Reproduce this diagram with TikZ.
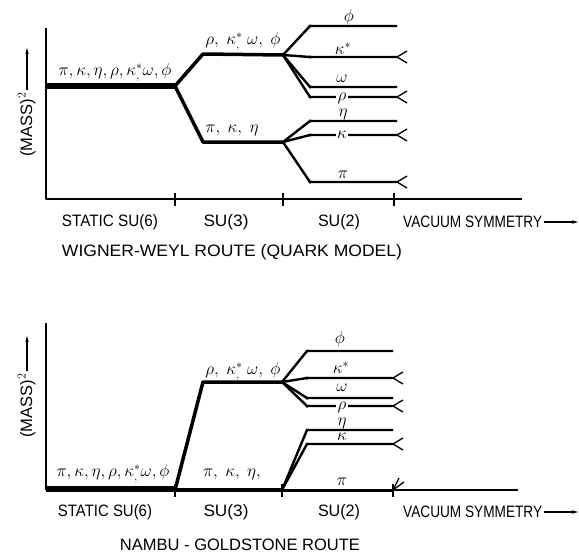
\documentclass[tikz,border=0pt]{standalone}
\usepackage{fontspec}
\setmainfont{Liberation Sans}
\usetikzlibrary{arrows.meta}
\newcommand\fitto[2]{\resizebox{#1}{\height}{#2}}
\newcommand\kst{\kappa^{*}_{,}}
\tikzset{
  ax/.style={line width=1.6pt},
  thinax/.style={line width=1.3pt},
  mainln/.style={line width=3.5pt},
  brln/.style={line width=2.4pt},
  band/.style={line width=6.5pt},
  forkln/.style={line width=1.3pt},
  lbl/.style={font=\fontsize{16.5}{18}\selectfont, inner sep=0pt},
  gk/.style={font=\fontsize{16.5}{18}\selectfont, inner sep=0pt},
  gkw/.style={gk, fill=white, inner xsep=1.5pt, inner ysep=0pt},
  bdot/.style={circle, fill, inner sep=0pt, minimum size=3.5pt},
  arr/.style={line width=1.1pt, -{Stealth[length=6pt,width=3.5pt]}}
}
\newcommand\forkat[1]{\draw[forkln] (#1) ++(10,-6) -- (#1) -- ++(10,6);}
\begin{document}
\begin{tikzpicture}[x=1pt,y=-1pt, line join=round]
\useasboundingbox (0,0) rectangle (579,554);

% ================= TOP PANEL =================
\coordinate (O1) at (46,199);
\coordinate (Y1) at (46,28);
\coordinate (X1) at (522,199);
\draw[ax] (Y1) -- (O1) -- (X1);
\foreach \t in {175,283,394} {\draw[ax] (\t,193) -- (\t,206);}

\coordinate (A0) at (46,86);
\coordinate (J0) at (175,86);
\coordinate (U1) at (203,54);
\coordinate (J1) at (283,55);
\coordinate (L1) at (203,142);
\coordinate (J2) at (283,142);
\draw[band] (A0) -- (J0);
\draw[mainln] (J0) -- (U1) -- (J1);
\draw[mainln] (J0) -- (L1) -- (J2);

% SU(2) branches, upper
\coordinate (phiB) at (310,26);  \coordinate (phiE) at (397,26);
\coordinate (ksB) at (310,57);   \coordinate (ksE) at (397,57);
\coordinate (omB) at (310,87);   \coordinate (omE) at (397,87);
\coordinate (rhB) at (310,97);   \coordinate (rhE) at (397,97);
\coordinate (etB) at (310,121);  \coordinate (etE) at (397,121);
\coordinate (kaB) at (310,135);  \coordinate (kaE) at (397,135);
\coordinate (piB) at (310,182);  \coordinate (piE) at (397,182);
\foreach \a/\b in {phiB/phiE,ksB/ksE,omB/omE,rhB/rhE}
  {\draw[brln] (J1) -- (\a) -- (\b);}
\foreach \a/\b in {etB/etE,kaB/kaE,piB/piE}
  {\draw[brln] (J2) -- (\a) -- (\b);}
\foreach \a in {phiB,ksB,omB,rhB,etB,kaB,piB} {\node[bdot] at (\a) {};}
\foreach \a in {ksE,rhE,kaE,piE} {\forkat{\a}}

% labels top
\node[gk] (g1) at (115,73) {$\pi,\kappa,\eta,\rho,\kst\omega,\phi$};
\node[gk] (g2) at (243,42) {$\rho,\ \kst\ \omega,\ \phi$};
\node[gk] (g3) at (232,130) {$\pi,\ \kappa,\ \eta$};
\node[gk] (s1) at (349,17) {$\phi$};
\node[gk] (s2) at (343,49) {$\kappa^{*}$};
\node[gk] (s3) at (342,79) {$\omega$};
\node[gkw] (s4) at (342,98) {$\rho$};
\node[gk] (s5) at (343,114) {$\eta$};
\node[gkw] (s6) at (342,135) {$\kappa$};
\node[gk] (s7) at (343,175) {$\pi$};

\node[lbl] (x1) at (110,222) {\fitto{96pt}{STATIC SU(6)}};
\node[lbl] (x2) at (226,222) {\fitto{45pt}{SU(3)}};
\node[lbl] (x3) at (339,222) {\fitto{42pt}{SU(2)}};
\node[lbl, anchor=west] (x4) at (403,222) {\fitto{139pt}{VACUUM SYMMETRY}};
\coordinate (xt1) at (578,222);
\draw[arr] (x4.east) ++(2,0) -- (xt1);

\node[lbl, rotate=90, anchor=base west] (yl1) at (32,157) {\fitto{58pt}{(MASS)}$^{2}$};
\coordinate (yt1) at (27,48);
\draw[arr] (yl1.east -| yt1) ++(0,-2) -- (yt1);

\node[lbl] (t1) at (232,252) {\fitto{340pt}{WIGNER-WEYL ROUTE (QUARK MODEL)}};

% ================= BOTTOM PANEL =================
\coordinate (O2) at (46,490);
\coordinate (Y2) at (46,323);
\coordinate (P0) at (175,490);
\coordinate (P1) at (282,490);
\coordinate (P2) at (393,490);
\coordinate (X2) at (518,490);
\draw[ax] (Y2) -- (O2);
\draw[band] (46,489) -- (175,489);
\draw[mainln] (P0) -- (P1);
\draw[line width=3pt] (P1) -- (P2);
\draw[thinax] (P2) -- (X2);
\foreach \t in {175,282,393} {\draw[ax] (\t,484) -- (\t,497);}

\coordinate (Ub) at (203,382);
\coordinate (Jb) at (282,382);
\draw[mainln] (P0) -- (Ub) -- (Jb);

\coordinate (phiBb) at (307,351); \coordinate (phiEb) at (393,351);
\coordinate (ksBb) at (307,378);  \coordinate (ksEb) at (393,378);
\coordinate (omBb) at (307,398);  \coordinate (omEb) at (393,398);
\coordinate (rhBb) at (307,406);  \coordinate (rhEb) at (393,406);
\coordinate (etBb) at (307,430);  \coordinate (etEb) at (393,430);
\coordinate (kaBb) at (307,444);  \coordinate (kaEb) at (393,444);
\foreach \a/\b in {phiBb/phiEb,ksBb/ksEb,omBb/omEb,rhBb/rhEb}
  {\draw[brln] (Jb) -- (\a) -- (\b);}
\foreach \a/\b in {etBb/etEb,kaBb/kaEb}
  {\draw[brln] (P1) -- (\a) -- (\b);}
\foreach \a in {phiBb,ksBb,omBb,rhBb,etBb,kaBb} {\node[bdot] at (\a) {};}
\foreach \a in {ksEb,rhEb,kaEb} {\forkat{\a}}
\draw[forkln] (P2) ++(11,-8) -- (P2) -- ++(6,-12);

\node[gk] (h1) at (113,474) {$\pi,\kappa,\eta,\rho,\kst\omega,\phi$};
\node[gk] (h2) at (243,372) {$\rho,\ \kst\ \omega,\ \phi$};
\node[gk] (h3) at (232,474) {$\pi,\ \kappa,\ \eta,$};
\node[gk] (r1) at (340,339) {$\phi$};
\node[gk] (r2) at (341,368) {$\kappa^{*}$};
\node[gk] (r3) at (342,388) {$\omega$};
\node[gkw] (r4) at (342,407) {$\rho$};
\node[gk] (r5) at (342,423) {$\eta$};
\node[gk] (r6) at (342,437) {$\kappa$};
\node[gk] (r7) at (342,482) {$\pi$};

\node[lbl] (z1) at (105,512) {\fitto{94pt}{STATIC SU(6)}};
\node[lbl] (z2) at (226,512) {\fitto{45pt}{SU(3)}};
\node[lbl] (z3) at (339,512) {\fitto{42pt}{SU(2)}};
\node[lbl, anchor=west] (z4) at (403,512) {\fitto{139pt}{VACUUM SYMMETRY}};
\coordinate (xt2) at (578,512);
\draw[arr] (z4.east) ++(2,0) -- (xt2);

\node[lbl, rotate=90, anchor=base west] (yl2) at (32,438) {\fitto{58pt}{(MASS)}$^{2}$};
\coordinate (yt2) at (27,336);
\draw[arr] (yl2.east -| yt2) ++(0,-2) -- (yt2);

\node[lbl] (t2) at (240,545) {\fitto{240pt}{NAMBU - GOLDSTONE ROUTE}};
\end{tikzpicture}
\end{document}
